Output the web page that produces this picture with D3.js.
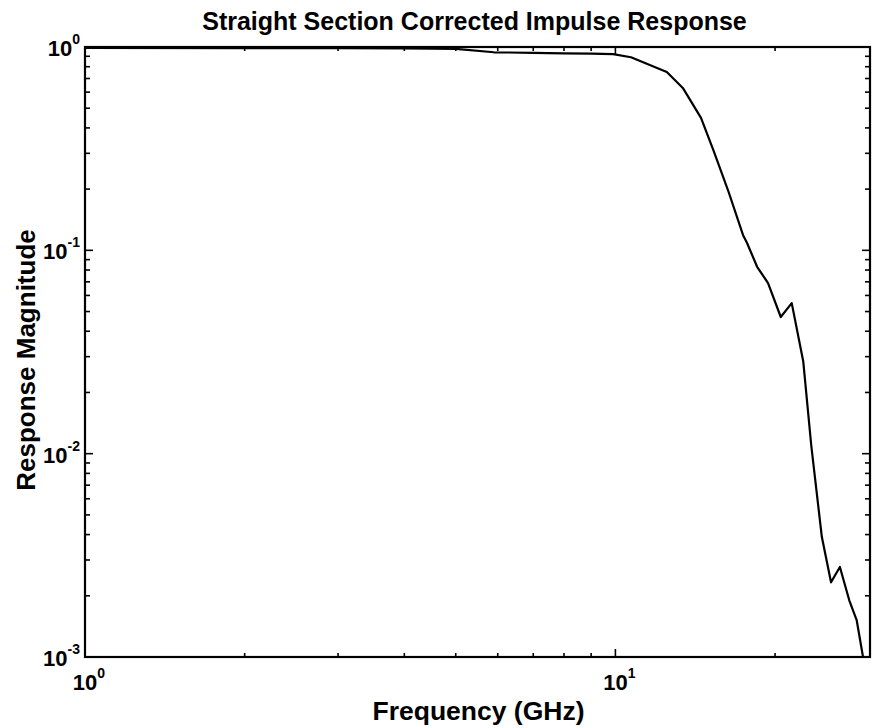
<!DOCTYPE html>
<html>
<head>
<meta charset="utf-8">
<style>
  body { margin: 0; background: #fff; }
  svg { display: block; }
  text { font-family: "Liberation Sans", Arial, Helvetica, sans-serif; fill: #000; font-weight: bold; }
</style>
</head>
<body>
<svg width="872" height="728"></svg>
<script src="https://cdn.jsdelivr.net/npm/d3@7"></script>
<script>

// frequency (GHz) and response magnitude
var freq = [1, 2, 3, 4, 5.0, 5.9, 7, 8, 9, 9.9, 10.7, 12.5, 13.4, 14.5, 15.3, 16.3, 17.4, 17.7,
            18.5, 19.4, 20.5, 21.5, 22.6, 23.4, 24.5, 25.5, 26.5, 27.6, 28.5, 29.4];
var magnitude = [0.99, 0.988, 0.986, 0.983, 0.98, 0.942, 0.936, 0.931, 0.927, 0.922, 0.89, 0.753, 0.629,
                 0.448, 0.311, 0.198, 0.119, 0.109, 0.083, 0.069, 0.047, 0.055, 0.0285, 0.011,
                 0.0039, 0.00233, 0.00277, 0.0019, 0.00152, 0.00095];

var xMajor = [1, 10];
var xMinor = [2, 3, 4, 5, 6, 7, 8, 9, 20];
var yMajor = [1, 0.1, 0.01, 0.001];
var yMinor = [];
[0.1, 0.01, 0.001].forEach(function(d) {
  for (var k = 2; k <= 9; k++) yMinor.push(d * k);
});

var svg = d3.select("svg");
var mLeft = 85, mRight = 870, mTop = 47, mBottom = 657;

var x = d3.scaleLog().domain([1, 30.2]).range([mLeft, mRight]);
var y = d3.scaleLog().domain([0.001, 1]).range([mBottom, mTop]);

svg.append("clipPath").attr("id", "clip")
  .append("rect").attr("x", mLeft).attr("y", mTop)
  .attr("width", mRight - mLeft).attr("height", mBottom - mTop);

// curve
var line = d3.line()
  .x(function(d, i) { return x(freq[i]); })
  .y(function(d) { return y(d); });

svg.append("path")
  .datum(magnitude)
  .attr("clip-path", "url(#clip)")
  .attr("d", line)
  .attr("fill", "none")
  .attr("stroke", "#000")
  .attr("stroke-width", 2.2)
  .attr("stroke-linejoin", "round");

// ticks on all four sides, pointing inward
var ticks = svg.append("g").attr("stroke", "#000").attr("stroke-width", 1.6);
function xTicks(vals, len) {
  vals.forEach(function(v) {
    ticks.append("line").attr("x1", x(v)).attr("x2", x(v)).attr("y1", mBottom).attr("y2", mBottom - len);
    ticks.append("line").attr("x1", x(v)).attr("x2", x(v)).attr("y1", mTop).attr("y2", mTop + len);
  });
}
function yTicks(vals, len) {
  vals.forEach(function(v) {
    ticks.append("line").attr("y1", y(v)).attr("y2", y(v)).attr("x1", mLeft).attr("x2", mLeft + len);
    ticks.append("line").attr("y1", y(v)).attr("y2", y(v)).attr("x1", mRight).attr("x2", mRight - len);
  });
}
xTicks(xMajor, 8); xTicks(xMinor, 4);
yTicks(yMajor, 8); yTicks(yMinor, 5);

// box
svg.append("rect")
  .attr("x", mLeft).attr("y", mTop)
  .attr("width", mRight - mLeft).attr("height", mBottom - mTop)
  .attr("fill", "none").attr("stroke", "#000").attr("stroke-width", 2.2);

// tick labels as 10^n
function power(g, px, py, n, anchor) {
  var t = g.append("text").attr("x", px).attr("y", py)
    .attr("text-anchor", anchor).style("font-size", "22px");
  t.append("tspan").text("10");
  t.append("tspan").attr("dy", -12).style("font-size", "14px").text(n);
}
var labels = svg.append("g");
yMajor.forEach(function(v) {
  power(labels, mLeft - 5, y(v) + 9, Math.round(Math.log10(v)), "end");
});
xMajor.forEach(function(v) {
  power(labels, x(v) + 4, mBottom + 33, Math.round(Math.log10(v)), "middle");
});

// titles
svg.append("text").attr("x", (mLeft + mRight) / 2 - 3).attr("y", 30)
  .attr("text-anchor", "middle").style("font-size", "25px")
  .text("Straight Section Corrected Impulse Response");
svg.append("text").attr("x", (mLeft + mRight) / 2 + 1).attr("y", 720)
  .attr("text-anchor", "middle").style("font-size", "26.5px")
  .text("Frequency (GHz)");
svg.append("text")
  .attr("transform", "translate(35,360) rotate(-90)")
  .attr("text-anchor", "middle").style("font-size", "26px")
  .text("Response Magnitude");

</script>
</body>
</html>
